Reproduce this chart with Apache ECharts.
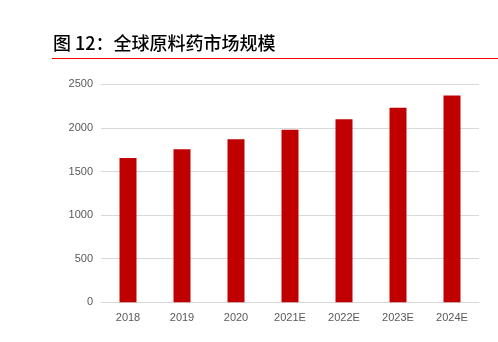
<!DOCTYPE html>
<html><head><meta charset="utf-8">
<script src="https://cdn.jsdelivr.net/npm/echarts@6/dist/echarts.min.js"></script>
<style>html,body{margin:0;padding:0;background:#fff}#c{width:498px;height:342px}</style>
</head><body><div id="c"></div>
<script>
const categories = ['2018', '2019', '2020', '2021E', '2022E', '2023E', '2024E'];
const marketSize = [1655, 1755, 1870, 1980, 2100, 2230, 2372];
const yTicks = [0, 500, 1000, 1500, 2000, 2500];
const titleText = '图 12：全球原料药市场规模';

const chart = echarts.init(document.getElementById('c'), null, {renderer: 'canvas'});
chart.setOption({
  animation: false,
  grid: {left: 101, right: 19, top: 84.3, bottom: 342 - 302.3, containLabel: false},
  graphic: [
    {type: 'text', left: 53, top: 34, style: {text: titleText, font: '500 18px "Noto Sans CJK SC"', fill: '#000'}},
    {type: 'line', shape: {x1: 52, y1: 58.5, x2: 498, y2: 58.5}, style: {stroke: '#ff0000', lineWidth: 1.2}}
  ],
  xAxis: {
    type: 'category', data: categories,
    axisLine: {show: true, lineStyle: {color: '#d9d9d9', width: 1}},
    axisTick: {show: false},
    axisLabel: {color: '#595959', fontSize: 11, fontFamily: 'Liberation Sans, Arial', margin: 10}
  },
  yAxis: {
    type: 'value', min: yTicks[0], max: yTicks[yTicks.length - 1], interval: 500,
    axisLine: {show: false}, axisTick: {show: false},
    splitLine: {lineStyle: {color: '#d9d9d9', width: 1}},
    axisLabel: {color: '#595959', fontSize: 11, fontFamily: 'Liberation Sans, Arial', margin: 8,
      formatter: v => String(v)}
  },
  series: [{
    type: 'bar', data: marketSize, barWidth: 17,
    itemStyle: {color: '#c00000'}
  }]
});
</script></body></html>
